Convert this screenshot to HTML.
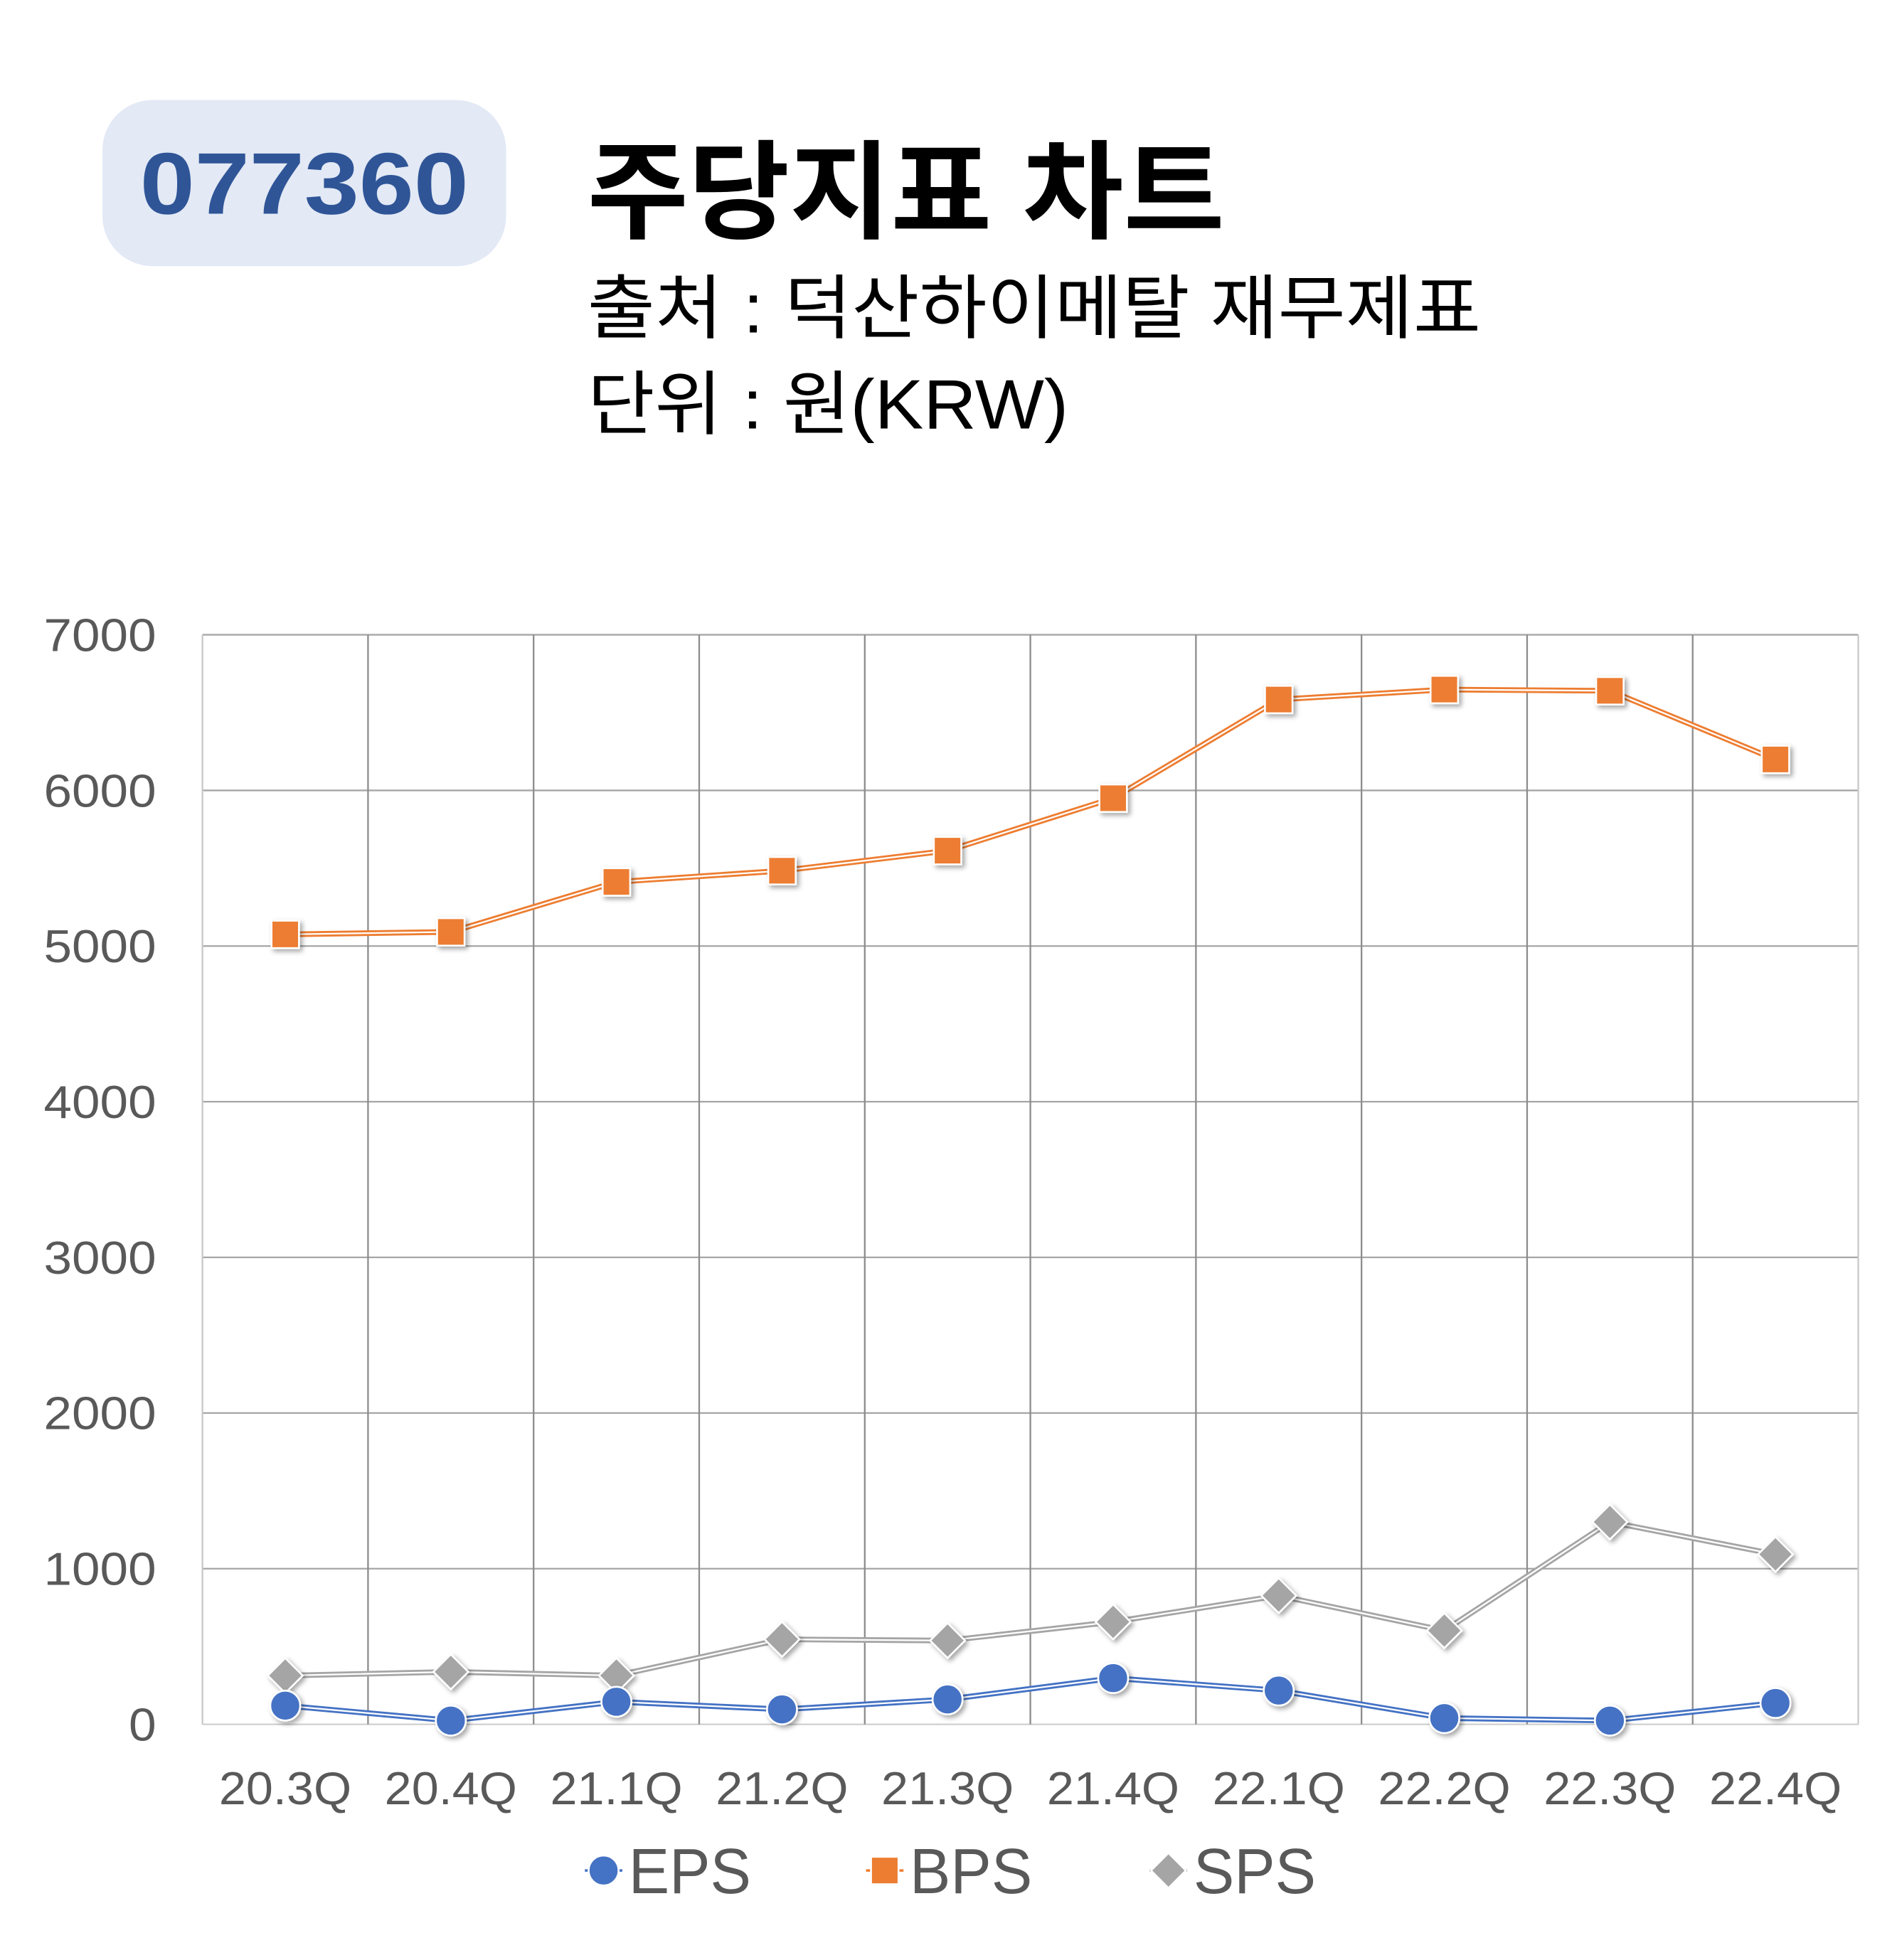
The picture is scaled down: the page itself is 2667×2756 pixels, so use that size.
<!DOCTYPE html>
<html><head><meta charset="utf-8"><style>
html,body{margin:0;padding:0;background:#fff;}
svg{display:block;}
text{font-family:"Liberation Sans","Noto Sans CJK KR",sans-serif;}
</style></head><body>
<svg id="chart" width="2667" height="2756" viewBox="0 0 1518 1568.6" xmlns="http://www.w3.org/2000/svg">
<defs>
<filter id="sh" x="-50%" y="-50%" width="200%" height="200%"><feDropShadow dx="2" dy="2" stdDeviation="2" flood-color="#000" flood-opacity="0.35"/></filter>
</defs>
<rect x="82" y="80" width="323" height="133" rx="40" fill="#e3e9f5"/>
<text x="112" y="171" textLength="263" lengthAdjust="spacingAndGlyphs" font-size="70" font-weight="bold" fill="#2f5597">077360</text>
<text x="470" y="184" textLength="510" lengthAdjust="spacingAndGlyphs" font-size="86" font-weight="bold" fill="#000">주당지표 차트</text>
<text x="470" y="266" textLength="715" lengthAdjust="spacingAndGlyphs" font-size="56" fill="#000">출처 : 덕산하이메탈 재무제표</text>
<text x="470" y="343" textLength="385" lengthAdjust="spacingAndGlyphs" font-size="56" fill="#000">단위 : 원(KRW)</text>
<g id="grid"></g>
<g id="series"></g>
<g id="legend"></g>
</svg>
<script>
const categories = ["20.3Q","20.4Q","21.1Q","21.2Q","21.3Q","21.4Q","22.1Q","22.2Q","22.3Q","22.4Q"];
const epsValues = [120, 24, 145, 96, 160, 297, 217, 40, 24, 137];
const bpsValues = [5075, 5091, 5412, 5484, 5613, 5950, 6584, 6648, 6640, 6199];
const spsValues = [313, 337, 313, 546, 538, 658, 827, 602, 1300, 1092];
const yTicks = [0, 1000, 2000, 3000, 4000, 5000, 6000, 7000];

const NS = "http://www.w3.org/2000/svg";
const L = 162, R = 1487, T = 508, B = 1380, YMAX = 7000;
const bw = (R - L) / categories.length;
function xPos(i){ return L + bw * (i + 0.5); }
function yPos(v){ return B - (v / YMAX) * (B - T); }
function mk(tag, attrs, parent){
  const e = document.createElementNS(NS, tag);
  for (const k in attrs) e.setAttribute(k, attrs[k]);
  parent.appendChild(e); return e;
}
const grid = document.getElementById('grid');
const series = document.getElementById('series');
const legend = document.getElementById('legend');

yTicks.forEach(v => {
  const ln = mk('line', {x1: L, x2: R, y1: yPos(v), y2: yPos(v), stroke: v === 0 ? '#d0d0d0' : '#a6a6a6', 'stroke-width': 1.3}, grid);
  
  
  const s = String(v);
  const w = s.length === 1 ? 22 : 90;
  const t = mk('text', {x: 125 - w, y: yPos(v) + 13, textLength: w, lengthAdjust: 'spacingAndGlyphs', 'font-size': 37, fill: '#595959'}, grid);
  t.textContent = s;
  
  
});
for (let i = 0; i <= categories.length; i++) {
  const x = L + bw * i;
  const ln = mk('line', {x1: x, x2: x, y1: T, y2: B, stroke: (i === 0 || i === categories.length) ? '#c8c8c8' : '#8c8c8c', 'stroke-width': 1.3}, grid);
  
  
}
categories.forEach((c, i) => {
  const t = mk('text', {x: xPos(i) - 53, y: 1444, textLength: 106, lengthAdjust: 'spacingAndGlyphs', 'font-size': 37, fill: '#595959'}, grid);
  t.textContent = c;
  
  
});

function marker(kind, x, y, color, parent, size){
  let e;
  if (kind === 'circle') e = mk('circle', {cx: x, cy: y, r: size, fill: color, stroke: '#fff', 'stroke-width': 1.5}, parent);
  else if (kind === 'square') e = mk('rect', {x: x - size, y: y - size, width: size * 2, height: size * 2, fill: color, stroke: '#fff', 'stroke-width': 1.5}, parent);
  else e = mk('polygon', {points: `${x},${y-size} ${x+size},${y} ${x},${y+size} ${x-size},${y}`, fill: color, stroke: '#fff', 'stroke-width': 1.5}, parent);
  return e;
}
function drawSeries(vals, color, kind, size, name){
  const g = mk('g', {}, series);
  
  
  const pts = vals.map((v, i) => xPos(i) + ',' + yPos(v)).join(' ');
  const l1 = mk('polyline', {points: pts, fill: 'none', stroke: color, 'stroke-width': 4.5}, g);
  
  
  mk('polyline', {points: pts, fill: 'none', stroke: '#fff', 'stroke-width': 1.3}, g);
  vals.forEach((v, i) => {
    const m = marker(kind, xPos(i), yPos(v), color, g, size);
    m.setAttribute('filter', 'url(#sh)');
    
    
  });
}
drawSeries(spsValues, '#a5a5a5', 'diamond', 14, 'sps');
drawSeries(epsValues, '#4472c4', 'circle', 12, 'eps');
drawSeries(bpsValues, '#ed7d31', 'square', 11, 'bps');

const legendItems = [["EPS", '#4472c4', 'circle', 483, 12], ["BPS", '#ed7d31', 'square', 708, 11], ["SPS", '#a5a5a5', 'diamond', 935, 14]];
legendItems.forEach(([lab, col, kind, x, sz]) => {
  const g = mk('g', {}, legend);
  
  
  mk('line', {x1: x - 15, x2: x + 15, y1: 1497, y2: 1497, stroke: col, 'stroke-width': 2}, g);
  marker(kind, x, 1497, col, g, sz);
  const t = mk('text', {x: x + 20, y: 1515, textLength: 98, lengthAdjust: 'spacingAndGlyphs', 'font-size': 51, fill: '#595959'}, g);
  t.textContent = lab;
});
</script>
</body></html>
